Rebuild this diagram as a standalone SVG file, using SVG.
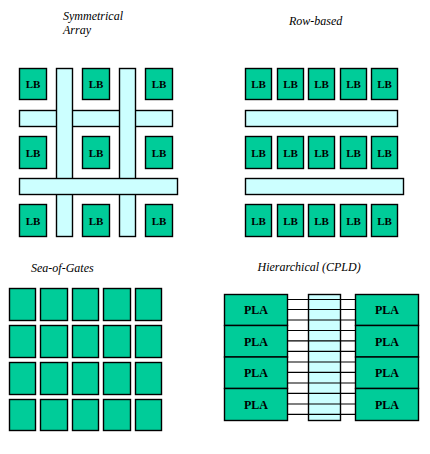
<svg xmlns="http://www.w3.org/2000/svg" width="430" height="454" viewBox="0 0 430 454">
<style>
.g{fill:#00CC99;stroke:#000;stroke-width:1.4}
.b{fill:#CCFFFF;stroke:#000;stroke-width:1.4}
.ln{stroke:#000;stroke-width:1.2;fill:none}
.t{font-family:"Liberation Serif","Times New Roman",serif;font-style:italic;font-size:12px;fill:#000}
.lb{font-family:"Liberation Serif","Times New Roman",serif;font-weight:bold;font-size:11px;fill:#000;text-anchor:middle}
.pla{font-family:"Liberation Serif","Times New Roman",serif;font-weight:bold;font-size:12px;fill:#000;text-anchor:middle}
</style>
<rect width="430" height="454" fill="#fff"/>

<g id="symmetrical-array">
<text class="t" x="63" y="19.5">Symmetrical</text>
<text class="t" x="63" y="33.5">Array</text>
<rect class="b" x="19.5" y="110.5" width="153" height="16"/>
<rect class="b" x="56.5" y="68.5" width="16" height="168"/>
<rect class="b" x="119.5" y="68.5" width="16" height="168"/>
<rect class="b" x="19.5" y="178.5" width="158" height="16"/>
<g id="sym-lb-r1c1"><rect class="g" x="19.5" y="68.5" width="27" height="31"/><text class="lb" x="33" y="88">LB</text></g>
<g id="sym-lb-r1c2"><rect class="g" x="82.5" y="68.5" width="27" height="31"/><text class="lb" x="96" y="88">LB</text></g>
<g id="sym-lb-r1c3"><rect class="g" x="145.5" y="68.5" width="27" height="31"/><text class="lb" x="159" y="88">LB</text></g>
<g id="sym-lb-r2c1"><rect class="g" x="19.5" y="136.5" width="27" height="32"/><text class="lb" x="33" y="157">LB</text></g>
<g id="sym-lb-r2c2"><rect class="g" x="82.5" y="136.5" width="27" height="32"/><text class="lb" x="96" y="157">LB</text></g>
<g id="sym-lb-r2c3"><rect class="g" x="145.5" y="136.5" width="27" height="32"/><text class="lb" x="159" y="157">LB</text></g>
<g id="sym-lb-r3c1"><rect class="g" x="19.5" y="204.5" width="27" height="32"/><text class="lb" x="33" y="224.5">LB</text></g>
<g id="sym-lb-r3c2"><rect class="g" x="82.5" y="204.5" width="27" height="32"/><text class="lb" x="96" y="224.5">LB</text></g>
<g id="sym-lb-r3c3"><rect class="g" x="145.5" y="204.5" width="27" height="32"/><text class="lb" x="159" y="224.5">LB</text></g>
</g>

<g id="row-based">
<text class="t" x="289" y="24.5">Row-based</text>
<rect class="b" x="245.5" y="110.5" width="152" height="16"/>
<rect class="b" x="245.5" y="178.5" width="158" height="16"/>
<g id="row-lb-r1c1"><rect class="g" x="245.5" y="68.5" width="26" height="31"/><text class="lb" x="258.5" y="88">LB</text></g>
<g id="row-lb-r1c2"><rect class="g" x="277.5" y="68.5" width="26" height="31"/><text class="lb" x="290.5" y="88">LB</text></g>
<g id="row-lb-r1c3"><rect class="g" x="308.5" y="68.5" width="26" height="31"/><text class="lb" x="321.5" y="88">LB</text></g>
<g id="row-lb-r1c4"><rect class="g" x="340.5" y="68.5" width="26" height="31"/><text class="lb" x="353.5" y="88">LB</text></g>
<g id="row-lb-r1c5"><rect class="g" x="371.5" y="68.5" width="26" height="31"/><text class="lb" x="384.5" y="88">LB</text></g>
<g id="row-lb-r2c1"><rect class="g" x="245.5" y="136.5" width="26" height="32"/><text class="lb" x="258.5" y="157">LB</text></g>
<g id="row-lb-r2c2"><rect class="g" x="277.5" y="136.5" width="26" height="32"/><text class="lb" x="290.5" y="157">LB</text></g>
<g id="row-lb-r2c3"><rect class="g" x="308.5" y="136.5" width="26" height="32"/><text class="lb" x="321.5" y="157">LB</text></g>
<g id="row-lb-r2c4"><rect class="g" x="340.5" y="136.5" width="26" height="32"/><text class="lb" x="353.5" y="157">LB</text></g>
<g id="row-lb-r2c5"><rect class="g" x="371.5" y="136.5" width="26" height="32"/><text class="lb" x="384.5" y="157">LB</text></g>
<g id="row-lb-r3c1"><rect class="g" x="245.5" y="204.5" width="26" height="32"/><text class="lb" x="258.5" y="224.5">LB</text></g>
<g id="row-lb-r3c2"><rect class="g" x="277.5" y="204.5" width="26" height="32"/><text class="lb" x="290.5" y="224.5">LB</text></g>
<g id="row-lb-r3c3"><rect class="g" x="308.5" y="204.5" width="26" height="32"/><text class="lb" x="321.5" y="224.5">LB</text></g>
<g id="row-lb-r3c4"><rect class="g" x="340.5" y="204.5" width="26" height="32"/><text class="lb" x="353.5" y="224.5">LB</text></g>
<g id="row-lb-r3c5"><rect class="g" x="371.5" y="204.5" width="26" height="32"/><text class="lb" x="384.5" y="224.5">LB</text></g>
</g>

<g id="sea-of-gates">
<text class="t" x="31" y="271.5">Sea-of-Gates</text>
<g id="sog-cells">
<rect class="g" x="9.5" y="288.5" width="26" height="32"/>
<rect class="g" x="40.5" y="288.5" width="27" height="32"/>
<rect class="g" x="72.5" y="288.5" width="26" height="32"/>
<rect class="g" x="103.5" y="288.5" width="27" height="32"/>
<rect class="g" x="135.5" y="288.5" width="26" height="32"/>
<rect class="g" x="9.5" y="325.5" width="26" height="32"/>
<rect class="g" x="40.5" y="325.5" width="27" height="32"/>
<rect class="g" x="72.5" y="325.5" width="26" height="32"/>
<rect class="g" x="103.5" y="325.5" width="27" height="32"/>
<rect class="g" x="135.5" y="325.5" width="26" height="32"/>
<rect class="g" x="9.5" y="362.5" width="26" height="32"/>
<rect class="g" x="40.5" y="362.5" width="27" height="32"/>
<rect class="g" x="72.5" y="362.5" width="26" height="32"/>
<rect class="g" x="103.5" y="362.5" width="27" height="32"/>
<rect class="g" x="135.5" y="362.5" width="26" height="32"/>
<rect class="g" x="9.5" y="399.5" width="26" height="31"/>
<rect class="g" x="40.5" y="399.5" width="27" height="31"/>
<rect class="g" x="72.5" y="399.5" width="26" height="31"/>
<rect class="g" x="103.5" y="399.5" width="27" height="31"/>
<rect class="g" x="135.5" y="399.5" width="26" height="31"/>
</g>
</g>

<g id="hierarchical">
<text class="t" x="257.5" y="270.5">Hierarchical (CPLD)</text>
<rect id="interconnect" class="b" x="308.5" y="294.5" width="32" height="126"/>
<g id="connectors">
<line class="ln" x1="287" y1="299.5" x2="355.5" y2="299.5"/>
<line class="ln" x1="287" y1="309.5" x2="355.5" y2="309.5"/>
<line class="ln" x1="287" y1="320" x2="355.5" y2="320"/>
<line class="ln" x1="287" y1="330.5" x2="355.5" y2="330.5"/>
<line class="ln" x1="287" y1="340.8" x2="355.5" y2="340.8"/>
<line class="ln" x1="287" y1="351.3" x2="355.5" y2="351.3"/>
<line class="ln" x1="287" y1="362" x2="355.5" y2="362"/>
<line class="ln" x1="287" y1="372.3" x2="355.5" y2="372.3"/>
<line class="ln" x1="287" y1="383" x2="355.5" y2="383"/>
<line class="ln" x1="287" y1="393.3" x2="355.5" y2="393.3"/>
<line class="ln" x1="287" y1="404" x2="355.5" y2="404"/>
<line class="ln" x1="287" y1="414.3" x2="355.5" y2="414.3"/>
</g>
<g id="pla-l1"><rect class="g" x="224.5" y="294.5" width="63" height="31"/><text class="pla" x="256" y="314.3">PLA</text></g>
<g id="pla-l2"><rect class="g" x="224.5" y="325.5" width="63" height="31.5"/><text class="pla" x="256" y="345.7">PLA</text></g>
<g id="pla-l3"><rect class="g" x="224.5" y="357" width="63" height="31.5"/><text class="pla" x="256" y="376.7">PLA</text></g>
<g id="pla-l4"><rect class="g" x="224.5" y="388.5" width="63" height="32"/><text class="pla" x="256" y="409">PLA</text></g>
<g id="pla-r1"><rect class="g" x="355.5" y="294.5" width="63" height="31"/><text class="pla" x="387" y="314.3">PLA</text></g>
<g id="pla-r2"><rect class="g" x="355.5" y="325.5" width="63" height="31.5"/><text class="pla" x="387" y="345.7">PLA</text></g>
<g id="pla-r3"><rect class="g" x="355.5" y="357" width="63" height="31.5"/><text class="pla" x="387" y="376.7">PLA</text></g>
<g id="pla-r4"><rect class="g" x="355.5" y="388.5" width="63" height="32"/><text class="pla" x="387" y="409">PLA</text></g>
</g>
</svg>
